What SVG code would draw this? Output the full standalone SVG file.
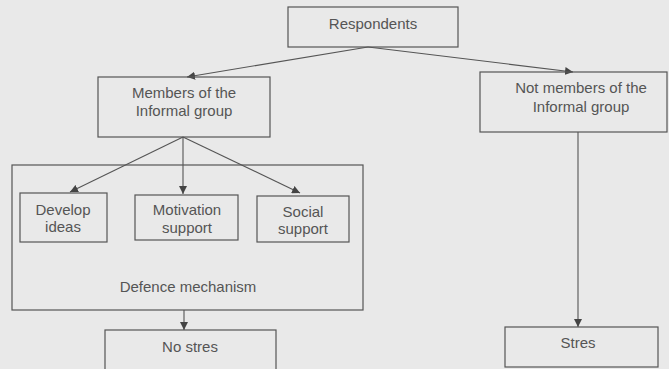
<svg xmlns="http://www.w3.org/2000/svg" width="669" height="369" viewBox="0 0 669 369">
<style>
.box{fill:none;stroke:#555;stroke-width:1.2}
.lbl{font-family:"Liberation Sans",Arial,sans-serif;font-size:15px;fill:#555;text-anchor:middle}
.con{stroke:#555;stroke-width:1.1;fill:none}
</style>
<defs>
<marker id="ah" viewBox="0 0 10 10" refX="10" refY="5" markerWidth="8" markerHeight="8" markerUnits="userSpaceOnUse" orient="auto">
<path d="M0,0 L10,5 L0,10 z" fill="#444"/>
</marker>
</defs>
<rect x="0" y="0" width="669" height="369" fill="#e9e9e9"/>
<g id="connectors">
<line class="con" x1="368" y1="47" x2="187" y2="77" marker-end="url(#ah)"/>
<line class="con" x1="368" y1="47" x2="573" y2="72" marker-end="url(#ah)"/>
<line class="con" x1="183" y1="137" x2="70" y2="192" marker-end="url(#ah)"/>
<line class="con" x1="183" y1="137" x2="183" y2="194" marker-end="url(#ah)"/>
<line class="con" x1="183" y1="137" x2="300" y2="193" marker-end="url(#ah)"/>
<line class="con" x1="184" y1="310" x2="184" y2="330" marker-end="url(#ah)"/>
<line class="con" x1="578" y1="132" x2="578" y2="327" marker-end="url(#ah)"/>
</g>
<g id="respondents">
<rect class="box" x="288" y="7" width="170" height="40"/>
<text class="lbl" x="373" y="29">Respondents</text>
</g>
<g id="members">
<rect class="box" x="98" y="77" width="172" height="60"/>
<text class="lbl" x="184" y="98">Members of the</text>
<text class="lbl" x="184" y="116">Informal group</text>
</g>
<g id="not-members">
<rect class="box" x="480" y="72" width="187" height="60"/>
<text class="lbl" x="581" y="93">Not members of the</text>
<text class="lbl" x="581" y="112">Informal group</text>
</g>
<g id="defence">
<rect class="box" x="12" y="165" width="351" height="145"/>
<text class="lbl" x="188" y="292">Defence mechanism</text>
</g>
<g id="develop">
<rect class="box" x="20" y="193" width="87" height="49"/>
<text class="lbl" x="63" y="215">Develop</text>
<text class="lbl" x="63" y="232">ideas</text>
</g>
<g id="motivation">
<rect class="box" x="135" y="195" width="103" height="45"/>
<text class="lbl" x="187" y="215">Motivation</text>
<text class="lbl" x="187" y="233">support</text>
</g>
<g id="social">
<rect class="box" x="257" y="196" width="92" height="46"/>
<text class="lbl" x="303" y="217">Social</text>
<text class="lbl" x="303" y="234">support</text>
</g>
<g id="no-stres">
<rect class="box" x="105" y="330" width="171" height="45"/>
<text class="lbl" x="190" y="352">No stres</text>
</g>
<g id="stres">
<rect class="box" x="505" y="327" width="153" height="40"/>
<text class="lbl" x="578" y="348">Stres</text>
</g>
</svg>
